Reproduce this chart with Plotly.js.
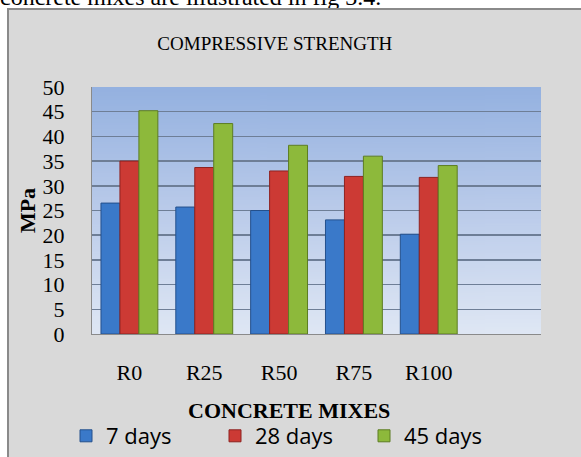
<!DOCTYPE html>
<html>
<head>
<meta charset="utf-8">
<script src="https://cdn.plot.ly/plotly-3.0.1.min.js"></script>
<style>
  html, body { margin: 0; padding: 0; background: #ffffff; }
  #page { position: relative; width: 581px; height: 457px; overflow: hidden; }
  #lead {
    position: absolute; left: 0; top: -15px; line-height: 24px;
    font-family: "Liberation Serif", "DejaVu Serif", serif; font-size: 24px;
    color: #000; white-space: nowrap;
  }
  #frame {
    position: absolute; left: 7px; top: 8px; width: 620px; height: 520px;
    background: #d9d9d9; border: 2px solid #8a8a8a;
  }
  #chart { position: absolute; left: 0; top: 0; width: 581px; height: 457px; }
</style>
</head>
<body>
<div id="page">
  <div id="lead">concrete mixes are illustrated in fig 3.4.</div>
  <div id="frame"></div>
  <div id="chart"></div>
</div>
<script>
// Compressive strength (MPa) of each concrete mix at three curing ages
const mixes = ['R0', 'R25', 'R50', 'R75', 'R100'];
const strength7 = [26.5, 25.7, 25.0, 23.1, 20.2];
const strength28 = [35.0, 33.7, 33.0, 31.9, 31.7];
const strength45 = [45.2, 42.6, 38.2, 36.0, 34.1];
const seriesNames = ['7 days', '28 days', '45 days'];

const serif = '"Liberation Serif", "DejaVu Serif", serif';

// vertical blue gradient used as the plot-area background
function gradientImage() {
  const c = document.createElement('canvas');
  c.width = 4; c.height = 256;
  const g = c.getContext('2d');
  const grad = g.createLinearGradient(0, 0, 0, 256);
  grad.addColorStop(0, 'rgb(148,177,224)');
  grad.addColorStop(0.5, 'rgb(186,203,234)');
  grad.addColorStop(1, 'rgb(223,231,244)');
  g.fillStyle = grad;
  g.fillRect(0, 0, 4, 256);
  return c.toDataURL('image/png');
}

function barTrace(name, values, fill, edge) {
  return {
    type: 'bar',
    name: name,
    x: mixes,
    y: values,
    marker: { color: fill, line: { color: edge, width: 1 } },
    hoverinfo: 'skip'
  };
}

const traces = [
  barTrace(seriesNames[0], strength7, '#3a79c9', '#24508c'),
  barTrace(seriesNames[1], strength28, '#cc3a34', '#8e2220'),
  barTrace(seriesNames[2], strength45, '#8db93b', '#5d7d22')
];

const layout = {
  width: 581,
  height: 457,
  autosize: false,
  margin: { l: 92, r: 40, t: 87, b: 123 },
  paper_bgcolor: 'rgba(0,0,0,0)',
  plot_bgcolor: 'rgba(0,0,0,0)',
  barmode: 'group',
  bargap: 0.24,
  bargroupgap: 0,
  title: {
    text: 'COMPRESSIVE STRENGTH',
    font: { family: serif, size: 19, color: '#000' },
    x: 0.473, xanchor: 'center',
    y: 0.906, yanchor: 'middle'
  },
  xaxis: {
    type: 'category',
    range: [-0.5, 5.5],
    showgrid: false,
    zeroline: false,
    showline: true,
    linecolor: '#8a8a8a',
    linewidth: 1,
    ticks: '',
    ticklabelstandoff: 19,
    tickfont: { family: serif, size: 22, color: '#000' }
  },
  yaxis: {
    range: [0, 50],
    dtick: 5,
    tick0: 0,
    showgrid: true,
    gridcolor: '#6e7e96',
    gridwidth: 1.5,
    zeroline: false,
    showline: true,
    linecolor: '#8a8a8a',
    linewidth: 1,
    ticks: '',
    ticklabelstandoff: 22,
    tickfont: { family: serif, size: 22, color: '#000' },
    title: {
      text: '<b>MPa</b>',
      font: { family: serif, size: 22, color: '#000' },
      standoff: 0
    }
  },
  annotations: [{
    text: '<b>CONCRETE MIXES</b>',
    xref: 'paper', yref: 'paper',
    x: (289 - 92) / 449, y: (334 - 410) / 247,
    xanchor: 'center', yanchor: 'middle',
    showarrow: false,
    font: { family: serif, size: 22, color: '#000' }
  }],
  images: [{
    source: gradientImage(),
    xref: 'paper', yref: 'paper',
    x: 0, y: 1, sizex: 1, sizey: 1,
    xanchor: 'left', yanchor: 'top',
    sizing: 'stretch',
    layer: 'below'
  }],
  showlegend: true,
  legend: {
    orientation: 'h',
    xref: 'container', yref: 'container',
    x: 66 / 581, xanchor: 'left',
    y: 1 - 436 / 457, yanchor: 'middle',
    entrywidth: 104,
    entrywidthmode: 'pixels',
    bgcolor: 'rgba(0,0,0,0)',
    font: { family: '"Open Sans", "Noto Sans", sans-serif', size: 22, color: '#000' },
    traceorder: 'normal'
  }
};

Plotly.newPlot('chart', traces, layout, { staticPlot: true, displayModeBar: false });
</script>
</body>
</html>
